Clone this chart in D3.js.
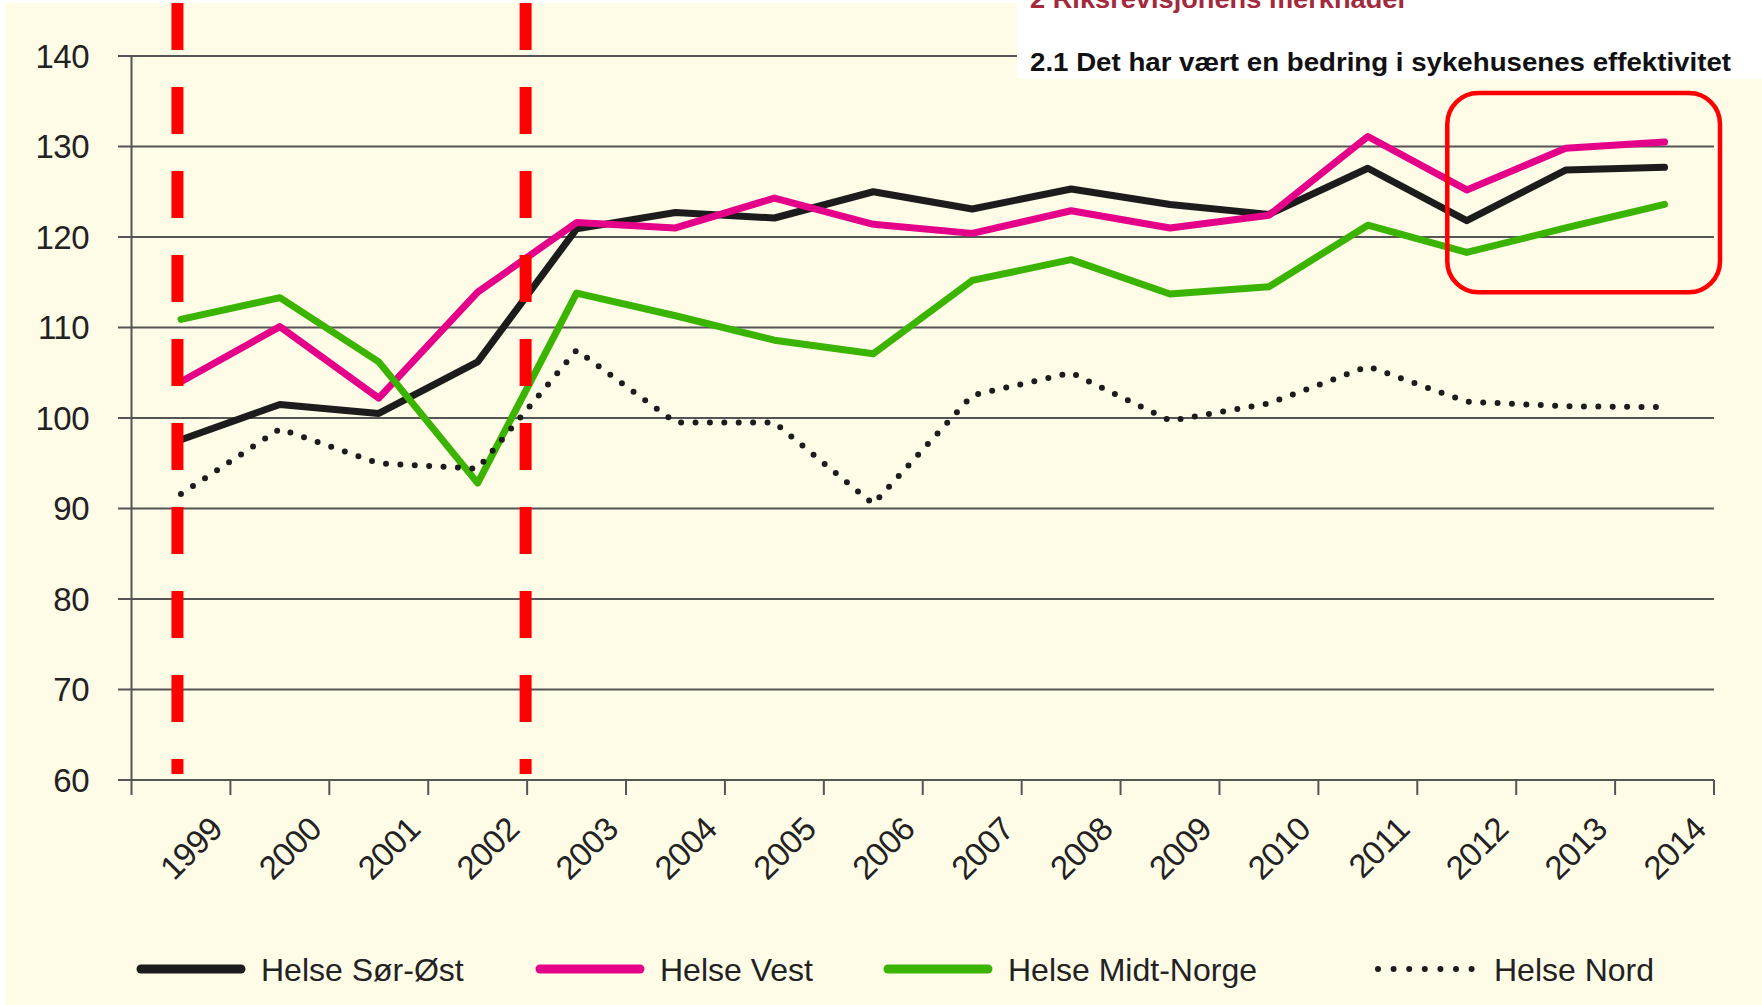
<!DOCTYPE html>
<html><head><meta charset="utf-8">
<script src="https://cdn.jsdelivr.net/npm/d3@7"></script>
<style>html,body{margin:0;padding:0;background:#fff;}svg{display:block;}</style>
</head><body>
<script>
const years = ["1999","2000","2001","2002","2003","2004","2005","2006","2007","2008","2009","2010","2011","2012","2013","2014"];
const sorOst    = [97.6, 101.5, 100.5, 106.2, 120.9, 122.7, 122.1, 125.0, 123.1, 125.3, 123.6, 122.5, 127.6, 121.8, 127.4, 127.7];
const vest      = [104.0, 110.1, 102.2, 113.9, 121.6, 121.0, 124.3, 121.4, 120.4, 122.9, 121.0, 122.4, 131.1, 125.2, 129.8, 130.5];
const midtNorge = [110.9, 113.3, 106.2, 92.8, 113.8, 111.3, 108.6, 107.1, 115.2, 117.5, 113.7, 114.5, 121.3, 118.3, 121.0, 123.6];
const nord      = [91.6, 98.8, 95.0, 94.4, 107.5, 99.5, 99.5, 90.5, 102.5, 105.0, 99.7, 101.6, 105.7, 101.8, 101.3, 101.2];
const seriesNames = ["Helse Sør-Øst", "Helse Vest", "Helse Midt-Norge", "Helse Nord"];
const yTicks = [60, 70, 80, 90, 100, 110, 120, 130, 140];
const headingText = "2 Riksrevisjonens merknader";
const titleText = "2.1 Det har vært en bedring i sykehusenes effektivitet";

const W = 1762, H = 1005;
const colors = ["#1c1c1c", "#e5008a", "#3bb400", "#1c1c1c"];
const seriesData = [sorOst, vest, midtNorge, nord];

const svg = d3.select("body").append("svg").attr("width", W).attr("height", H);
svg.append("rect").attr("width", W).attr("height", H).attr("fill", "#ffffff");
svg.append("rect").attr("x", 5).attr("y", 3).attr("width", W - 5).attr("height", H - 3).attr("fill", "#fefbe7");

const x = d3.scaleBand().domain(years).range([131.5, 1714]).padding(0);
const y = d3.scaleLinear().domain([60, 140]).range([780, 56]);
const bw = x.bandwidth();
const font = "'Liberation Sans', Arial, sans-serif";

// gridlines
const g = svg.append("g");
g.selectAll("line.grid").data(yTicks).join("line")
  .attr("x1", 118).attr("x2", 1714)
  .attr("y1", d => y(d)).attr("y2", d => y(d))
  .attr("stroke", "#555").attr("stroke-width", 2);
// y axis line
g.append("line").attr("x1", 131.5).attr("x2", 131.5).attr("y1", y(140)).attr("y2", 795)
  .attr("stroke", "#555").attr("stroke-width", 2);
// x ticks at band edges
const edges = years.map(d => x(d)).concat([x(years[years.length - 1]) + bw]);
g.selectAll("line.xt").data(edges.slice(1)).join("line")
  .attr("x1", d => d).attr("x2", d => d).attr("y1", 780).attr("y2", 795)
  .attr("stroke", "#555").attr("stroke-width", 2);

// y labels
g.selectAll("text.yl").data(yTicks).join("text")
  .attr("x", 89).attr("y", d => y(d)).attr("dy", "0.36em")
  .attr("text-anchor", "end").attr("font-family", font).attr("font-size", 33)
  .attr("letter-spacing", -0.5)
  .attr("fill", "#222").text(d => d);

// x labels rotated
g.selectAll("text.xl").data(years).join("text")
  .attr("transform", d => `translate(${x(d) + bw - 6},831) rotate(-45)`)
  .attr("text-anchor", "end").attr("font-family", font).attr("font-size", 33)
  .attr("letter-spacing", -0.5)
  .attr("fill", "#222").text(d => d);

// lines
const line = d3.line().x((d, i) => x(years[i]) + bw / 2).y(d => y(d));
seriesData.forEach((arr, k) => {
  const p = svg.append("path").datum(arr).attr("d", line)
    .attr("fill", "none").attr("stroke", colors[k])
    .attr("stroke-linejoin", "round").attr("stroke-linecap", "round");
  if (k === 3) p.attr("stroke-width", 6).attr("stroke-dasharray", "0 14.4");
  else p.attr("stroke-width", 7);
});

// red dashed annotation lines
const redX = [x("1999") + bw / 2 - 3.5, x("2003") - 1.5];
svg.selectAll("line.red").data(redX).join("line")
  .attr("x1", d => d).attr("x2", d => d).attr("y1", 3).attr("y2", 774)
  .attr("stroke", "#ff0000").attr("stroke-width", 12).attr("stroke-dasharray", "47 37");

// red rounded rectangle around 2012-2014
const rx0 = x("2012") + 30, rx1 = x("2014") + bw + 6;
svg.append("rect").attr("x", rx0).attr("y", y(135.9)).attr("width", rx1 - rx0)
  .attr("height", y(113.9) - y(135.9))
  .attr("rx", 31).attr("ry", 31).attr("fill", "none")
  .attr("stroke", "#ff0000").attr("stroke-width", 4.5);

// white header box
svg.append("rect").attr("x", 1017).attr("y", 0).attr("width", W - 1017).attr("height", 79).attr("fill", "#ffffff");
svg.append("text").attr("x", 1030).attr("y", 8).attr("font-family", font).attr("font-weight", "bold")
  .attr("font-size", 26).attr("fill", "#a3293c").attr("textLength", 378).attr("lengthAdjust", "spacingAndGlyphs")
  .text(headingText);
svg.append("text").attr("x", 1030).attr("y", 71).attr("font-family", font).attr("font-weight", "bold")
  .attr("font-size", 26).attr("fill", "#111").attr("textLength", 701).attr("lengthAdjust", "spacingAndGlyphs")
  .text(titleText);

// legend
const legendX = [141, 540, 888, 1378];
const legY = 969;
seriesNames.forEach((name, k) => {
  const lx = legendX[k];
  const ln = svg.append("line").attr("x1", lx).attr("x2", lx + (k === 3 ? 94 : 100))
    .attr("y1", legY).attr("y2", legY).attr("stroke", colors[k]).attr("stroke-linecap", "round");
  if (k === 3) ln.attr("stroke-width", 6).attr("stroke-dasharray", "0 15.6");
  else ln.attr("stroke-width", 9);
  svg.append("text").attr("x", lx + (k === 3 ? 116 : 120)).attr("y", legY).attr("dy", "0.36em")
    .attr("font-family", font).attr("font-size", 32).attr("fill", "#222").text(name);
});
</script>
</body></html>
